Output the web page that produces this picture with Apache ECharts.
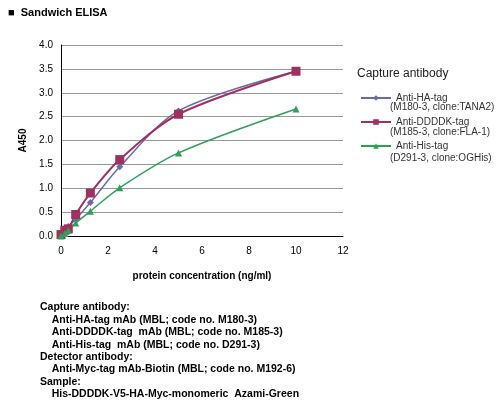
<!DOCTYPE html><html><head><meta charset="utf-8"><script src="https://cdn.jsdelivr.net/npm/echarts@6/dist/echarts.min.js"></script></head><body style="margin:0;background:#fff"><div id="c" style="width:500px;height:415px"></div><script>
const conc=[0,0.16,0.31,0.625,1.25,2.5,5,10];
const ha=[0.02,0.1,0.2,0.35,0.7,1.45,2.62,3.45];
const dddk=[0.03,0.12,0.15,0.45,0.9,1.6,2.55,3.45];
const his=[0,0.05,0.12,0.27,0.52,1.01,1.74,2.66];
const names=['Anti-HA-tag','Anti-DDDDK-tag','Anti-His-tag'];
const subs=['(M180-3, clone:TANA2)','(M185-3, clone:FLA-1)','(D291-3, clone:OGHis)'];
const notes=['Capture antibody:','    Anti-HA-tag mAb (MBL; code no. M180-3)','    Anti-DDDDK-tag  mAb (MBL; code no. M185-3)','    Anti-His-tag  mAb (MBL; code no. D291-3)','Detector antibody:','    Anti-Myc-tag mAb-Biotin (MBL; code no. M192-6)','Sample:','    His-DDDDK-V5-HA-Myc-monomeric  Azami-Green'];
const cols=['#6a6aa8','#a0305f','#2ea05a'];
const syms=['diamond','rect','triangle'];
const vals=[ha,dddk,his];
const g=[{type:'text',left:8,top:7,style:{text:'■  Sandwich ELISA',font:'bold 11px Arial',fill:'#000'}},
{type:'text',left:357,top:68,style:{text:'Capture antibody',font:'12px Arial',fill:'#222'}}];
subs.forEach((s,i)=>g.push({type:'text',left:390,top:102+i*25.5,style:{text:s,font:'10px Arial',fill:'#333'}}));
notes.forEach((s,i)=>g.push({type:'text',left:40,top:302+i*12.4,style:{text:s,font:'bold 10.5px Arial',fill:'#000',whiteSpace:'pre'}}));
const ch=echarts.init(document.getElementById('c'));
ch.setOption({animation:false,
grid:{left:61,top:45,width:282,height:191},
legend:{orient:'vertical',left:355,top:88,itemGap:14,itemWidth:30,itemHeight:7,textStyle:{fontSize:10,color:'#333',fontFamily:'Arial'},data:names},
xAxis:{type:'value',min:0,max:12,interval:2,axisLine:{lineStyle:{color:'#000'}},axisTick:{show:false},splitLine:{show:false},axisLabel:{color:'#000',fontSize:10,margin:10},name:'protein concentration (ng/ml)',nameLocation:'middle',nameGap:35,nameTextStyle:{fontWeight:'bold',fontSize:10,color:'#000'}},
yAxis:{type:'value',min:0,max:4,interval:0.5,axisLine:{show:true,lineStyle:{color:'#000'}},axisTick:{show:false},splitLine:{lineStyle:{color:'#999'}},axisLabel:{color:'#000',fontSize:10,formatter:v=>v.toFixed(1)},name:'A450',nameLocation:'middle',nameGap:33,nameTextStyle:{fontWeight:'bold',fontSize:10,color:'#000'}},
graphic:g,
series:vals.map((v,i)=>({name:names[i],type:'line',smooth:0.3,data:conc.map((x,j)=>[x,v[j]]),symbol:syms[i],symbolSize:i==1?9:7,itemStyle:{color:cols[i]},lineStyle:{color:cols[i],width:i==1?2:1.5}}))
});
</script></body></html>
